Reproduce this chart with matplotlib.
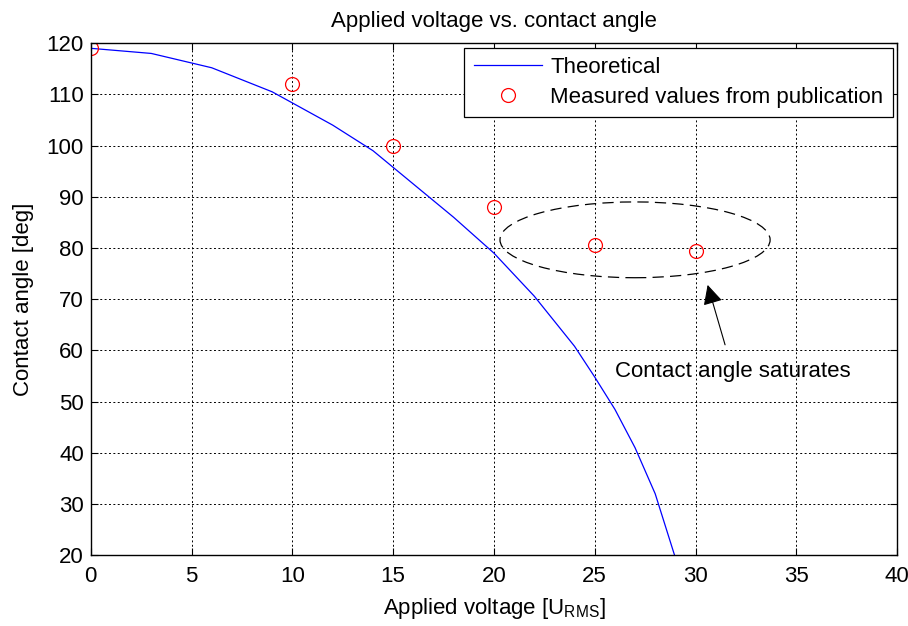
import matplotlib
matplotlib.use('Agg')
import matplotlib.pyplot as plt
from matplotlib.patches import Ellipse

plt.rcParams['font.family'] = ['Liberation Sans', 'DejaVu Sans']
plt.rcParams['mathtext.fontset'] = 'custom'
plt.rcParams['mathtext.rm'] = 'Liberation Sans'
plt.rcParams['mathtext.it'] = 'Liberation Sans'

# theoretical curve
v_theory = [0, 3, 6, 9, 12, 14, 16, 18, 20, 22, 24, 25, 26, 27, 28, 29]
a_theory = [119, 118, 115.2, 110.5, 104, 99, 92.5, 86, 79, 70.6, 60.8, 54.8, 48.5, 41, 32, 19.5]

# measured values
v_meas = [0, 10, 15, 20, 25, 30]
a_meas = [119, 112, 100, 88, 80.5, 79.5]

fs = 16
fig = plt.figure(figsize=(9.08, 6.26), dpi=100)
ax = fig.add_axes([0.100, 0.113, 0.888, 0.818])

ax.plot(v_theory, a_theory, '-', color='#0000ff', lw=0.9, label='Theoretical')
ax.plot(v_meas, a_meas, 'o', mfc='none', mec='#ff0000', ms=10, mew=0.9,
        label='Measured values from publication')

ax.set_xlim(0, 40)
ax.set_ylim(20, 120)
ax.set_xticks(range(0, 41, 5))
ax.set_yticks(range(20, 121, 10))
ax.grid(True, color='black', linestyle=(0, (2, 2.5)), lw=0.7)
ax.tick_params(direction='in', top=True, right=True, labelsize=fs, length=5, width=0.8)
ax.tick_params(axis='x', pad=8)
ax.tick_params(axis='y', pad=5)
for s in ax.spines.values():
    s.set_linewidth(1.0)

ax.set_title('Applied voltage vs. contact angle', fontsize=fs, pad=12)
ax.set_xlabel('Applied voltage [U$_{\\mathrm{RMS}}$]', fontsize=fs, labelpad=6)
ax.set_ylabel('Contact angle [deg]', fontsize=fs, labelpad=9)

ell = Ellipse((27.0, 81.6), 13.4, 14.8, fill=False, edgecolor='black',
              linestyle=(0, (9, 5)), lw=0.9)
ax.add_patch(ell)

ax.annotate('Contact angle saturates', xy=(30.6, 72.8), xytext=(31.85, 55.9),
            fontsize=fs, ha='center', va='center',
            arrowprops=dict(arrowstyle='-|>', color='black', lw=0.8,
                            mutation_scale=30, shrinkA=10, shrinkB=0))

leg = ax.legend(loc='upper right', fontsize=fs, fancybox=False, framealpha=1,
                edgecolor='black', borderaxespad=0.2, handlelength=3.1,
                handletextpad=0.35, borderpad=0.42, labelspacing=0.4)
leg.get_frame().set_linewidth(0.9)

fig.savefig('out.png', dpi=100)
